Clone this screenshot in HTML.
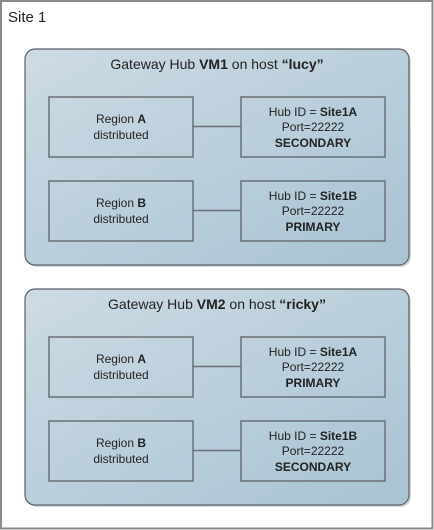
<!DOCTYPE html>
<html><head><meta charset="utf-8"><style>
html,body{margin:0;padding:0;background:#fff;}
svg{display:block;}
text{font-family:"Liberation Sans",sans-serif;fill:#222;}
.b{font-weight:bold;}
</style></head><body>
<svg width="434" height="530" viewBox="0 0 434 530" xmlns="http://www.w3.org/2000/svg">
<defs>
<linearGradient id="g" x1="0" y1="0" x2="1" y2="1">
<stop offset="0" stop-color="#cddbe4"/>
<stop offset="1" stop-color="#a8c3d3"/>
</linearGradient>
</defs>
<rect x="1" y="1" width="431.5" height="527.5" fill="#fff" stroke="#8a8a8a" stroke-width="2"/>
<text x="8" y="22" font-size="15">Site 1</text>

<g>
<rect x="27" y="51" width="384" height="216" rx="10" fill="#b8bcc0" opacity="0.6"/>
<rect x="25" y="49" width="384" height="216" rx="10" fill="url(#g)" stroke="#5a5f64" stroke-width="1.2"/>
<text x="217" y="69" font-size="14" text-anchor="middle">Gateway Hub <tspan class="b">VM1</tspan> on host <tspan class="b">“lucy”</tspan></text>
<g fill="none" stroke="#6b7075" stroke-width="1.5">
<rect x="49" y="97" width="144" height="60"/><rect x="241" y="97" width="144" height="60"/>
<rect x="49" y="181" width="144" height="60"/><rect x="241" y="181" width="144" height="60"/>
<line x1="193" y1="126.5" x2="241" y2="126.5"/><line x1="193" y1="210.5" x2="241" y2="210.5"/>
</g>
<g font-size="12" text-anchor="middle">
<text x="121" y="123">Region <tspan class="b">A</tspan></text><text x="121" y="139">distributed</text>
<text x="313" y="116">Hub ID = <tspan class="b">Site1A</tspan></text><text x="313" y="131">Port=22222</text><text x="313" y="147" class="b">SECONDARY</text>
<text x="121" y="207">Region <tspan class="b">B</tspan></text><text x="121" y="223">distributed</text>
<text x="313" y="200">Hub ID = <tspan class="b">Site1B</tspan></text><text x="313" y="215">Port=22222</text><text x="313" y="231" class="b">PRIMARY</text>
</g>
</g>

<g>
<rect x="27" y="291" width="384" height="216" rx="10" fill="#b8bcc0" opacity="0.6"/>
<rect x="25" y="289" width="384" height="216" rx="10" fill="url(#g)" stroke="#5a5f64" stroke-width="1.2"/>
<text x="217" y="309" font-size="14" text-anchor="middle">Gateway Hub <tspan class="b">VM2</tspan> on host <tspan class="b">“ricky”</tspan></text>
<g fill="none" stroke="#6b7075" stroke-width="1.5">
<rect x="49" y="337" width="144" height="60"/><rect x="241" y="337" width="144" height="60"/>
<rect x="49" y="421" width="144" height="60"/><rect x="241" y="421" width="144" height="60"/>
<line x1="193" y1="366.5" x2="241" y2="366.5"/><line x1="193" y1="450.5" x2="241" y2="450.5"/>
</g>
<g font-size="12" text-anchor="middle">
<text x="121" y="363">Region <tspan class="b">A</tspan></text><text x="121" y="379">distributed</text>
<text x="313" y="356">Hub ID = <tspan class="b">Site1A</tspan></text><text x="313" y="371">Port=22222</text><text x="313" y="387" class="b">PRIMARY</text>
<text x="121" y="447">Region <tspan class="b">B</tspan></text><text x="121" y="463">distributed</text>
<text x="313" y="440">Hub ID = <tspan class="b">Site1B</tspan></text><text x="313" y="455">Port=22222</text><text x="313" y="471" class="b">SECONDARY</text>
</g>
</g>
</svg>
</body></html>
